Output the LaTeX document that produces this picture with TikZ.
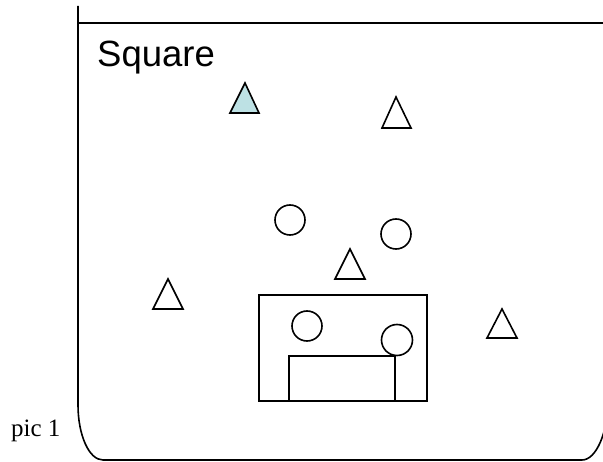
\documentclass[tikz,border=0pt]{standalone}
\usepackage{fontspec}
\setmainfont{Liberation Serif}
\newfontfamily\arialfont{Liberation Sans}
\definecolor{triblue}{RGB}{189,225,228}
\tikzset{
  shp/.style={draw=black, line width=1.6pt, line join=miter},
  frame/.style={draw=black, line width=1.6pt},
}
\begin{document}
\begin{tikzpicture}[x=1pt,y=-1pt]
\useasboundingbox (0,0) rectangle (603,462);
\clip (0,0) rectangle (603,462);
% frame
\draw[frame] (608,23) -- (78,23);
\draw[frame] (78,6) -- (78,405)
  .. controls (78,435) and (89,460) .. (103,460) -- (582,460)
  .. controls (596,460) and (608,433) .. (608,400) -- (608,23);
% title
\node[anchor=base west, inner sep=0pt, font=\arialfont\fontsize{36.5}{44}\selectfont] (title) at (97,67) {Square};
\node[anchor=base west, inner sep=0pt, font=\fontsize{25}{30}\selectfont] (pic) at (11,437) {pic 1};
% triangles
\draw[shp, fill=triblue] (245,83) -- (259,113) -- (230,113) -- cycle;
\draw[shp] (396,97) -- (411,128) -- (382,128) -- cycle;
\draw[shp] (350,249) -- (365,279) -- (335,279) -- cycle;
\draw[shp] (168,279) -- (183,309) -- (153,309) -- cycle;
\draw[shp] (502,309) -- (517,338) -- (487,338) -- cycle;
% circles
\draw[shp] (290,220) circle[radius=15];
\draw[shp] (396,234) circle[radius=15];
% box
\draw[shp] (259,295) rectangle (427,401);
\draw[shp] (307,326) circle[radius=15];
\draw[shp] (397,340) circle[radius=15.5];
\draw[shp, fill=white] (289,356) rectangle (395,401);
\end{tikzpicture}
\end{document}
